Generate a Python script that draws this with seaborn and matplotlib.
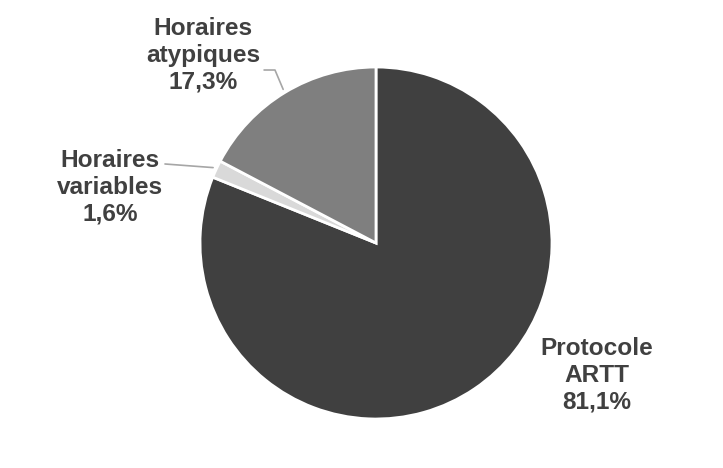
import numpy as np
import matplotlib.pyplot as plt
import seaborn as sns

# Data
categories = ['Protocole\nARTT', 'Horaires\nvariables', 'Horaires\natypiques']
shares = [81.1, 1.6, 17.3]
value_labels = ['81,1%', '1,6%', '17,3%']
slice_colors = ['#404040', '#d9d9d9', '#7f7f7f']

sns.set_theme(style='white')
plt.rcParams['font.family'] = ['Liberation Sans', 'DejaVu Sans']

fig = plt.figure(figsize=(7.23, 4.68), dpi=100)
ax = fig.add_axes([0.2766, 0.1047, 0.4869, 0.7521])

wedges, _ = ax.pie(shares, colors=slice_colors, startangle=90, counterclock=False,
                   wedgeprops=dict(edgecolor='white', linewidth=2))
ax.set_xlim(-1, 1)
ax.set_ylim(-1, 1)
ax.set_aspect('equal')
ax.axis('off')

# label placement (in pie radius units) and leader line bends
label_pos = [(1.256, -0.75), (-1.511, 0.318), (-0.983, 1.068)]
leader = [None, [(-1.199, 0.449)], [(-0.636, 0.983), (-0.574, 0.983)]]

text_kw = dict(ha='center', va='center', fontsize=17.6, fontweight='bold',
               color='#404040', linespacing=1.2)

for w, cat, val, pos, pts in zip(wedges, categories, value_labels, label_pos, leader):
    ax.text(pos[0], pos[1], f'{cat}\n{val}', **text_kw)
    if pts is not None:
        mid = np.deg2rad((w.theta1 + w.theta2) / 2)
        end = (1.02 * np.cos(mid), 1.02 * np.sin(mid))
        xs = [p[0] for p in pts] + [end[0]]
        ys = [p[1] for p in pts] + [end[1]]
        ax.plot(xs, ys, color='#a6a6a6', linewidth=1.2, clip_on=False)

fig.savefig('out.png', dpi=100, facecolor='white')
